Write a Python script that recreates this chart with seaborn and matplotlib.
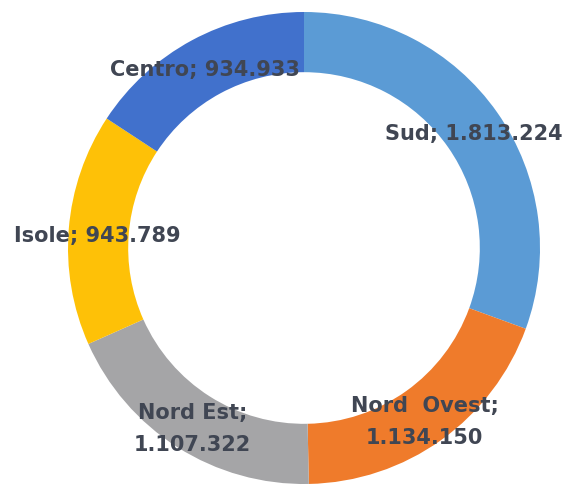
import numpy as np
import matplotlib
matplotlib.use("Agg")
import matplotlib.pyplot as plt
import seaborn as sns

# Popolazione per ripartizione geografica
regions = ["Sud", "Nord Ovest", "Nord Est", "Isole", "Centro"]
values = [1813224, 1134150, 1107322, 943789, 934933]
label_texts = ["Sud; 1.813.224", "Nord  Ovest;\n1.134.150", "Nord Est;\n1.107.322",
               "Isole; 943.789", "Centro; 934.933"]
colors = ["#5B9BD5", "#EF7B2B", "#A5A5A7", "#FEC107", "#4171CC"]

sns.set_theme(style="white")
plt.rcParams["font.family"] = ["DejaVu Sans"]

W, H = 563, 486
fig = plt.figure(figsize=(W / 100, H / 100), dpi=100)

# ring centre and outer radius in pixels
cx, cy, R = 304, 248, 236
ax = fig.add_axes([(cx - R) / W, (H - cy - R) / H, 2 * R / W, 2 * R / H])

wedges, _ = ax.pie(values, colors=colors, startangle=90, counterclock=False,
                   radius=1.0, wedgeprops=dict(width=0.255, linewidth=0))
ax.set_xlim(-1, 1)
ax.set_ylim(-1, 1)
ax.set_aspect("equal")
ax.axis("off")

# data labels at the middle of each wedge, near the outer edge
for w, txt in zip(wedges, label_texts):
    mid = np.deg2rad((w.theta1 + w.theta2) / 2)
    r = 0.88
    ax.text(r * np.cos(mid), r * np.sin(mid) - 0.022, txt, ha="center", va="center",
            fontsize=15, fontweight="bold", color="#404653",
            linespacing=1.75, clip_on=False)

fig.savefig("out.png", dpi=100, facecolor="white")
